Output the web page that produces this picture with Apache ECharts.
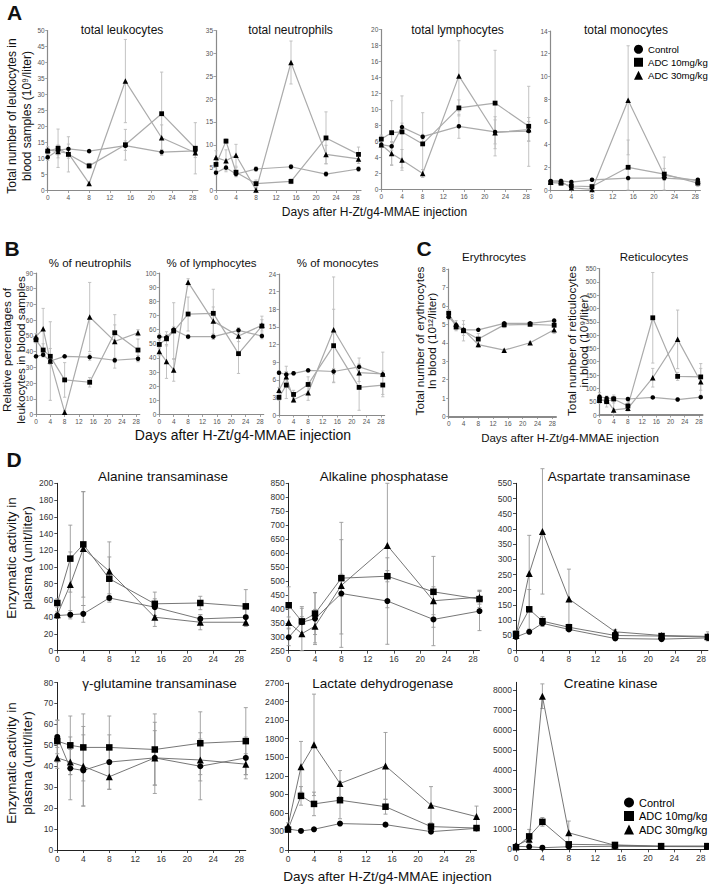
<!DOCTYPE html>
<html><head><meta charset="utf-8">
<script src="https://cdn.jsdelivr.net/npm/echarts@6/dist/echarts.min.js"></script>
<style>html,body{margin:0;padding:0;background:#fff}#c{width:709px;height:884px}</style>
</head><body><div id="c"></div>
<script>
// ---------- DATA ----------
const SERIES_NAMES = ['Control', 'ADC 10mg/kg', 'ADC 30mg/kg'];
const DAYS_ABC = [0, 2, 4, 8, 15, 22, 28.5];
const DAYS_D = [0, 2, 4, 8, 15, 22, 29];
const DAY_TICKS = [0, 4, 8, 12, 16, 20, 24, 28];
const CK_TICKS = [0, 1000, 2000, 3000, 4000, 5000, 6000, 7000, 8000];

// A: total leukocytes (10^9/liter)
const leukCtrl = [10.4, 12.6, 13.0, 12.3, 14.0, 12.0, 12.4];
const leuk10   = [12.3, 13.2, 11.3, 7.7, 14.3, 24.0, 13.2];
const leuk30   = [12.7, 12.2, 11.6, 2.2, 34.2, 16.5, 11.8];
const leukCtrlErr = [1, 1.5, 1.5, 0.5, 1.5, 0.8, 1];
const leuk10Err   = [1, 6, 5.5, 0.8, 4.8, 13, 8];
const leuk30Err   = [1, 2, 1.5, 0.5, 13, 4, 1.5];
// A: total neutrophils
const neutCtrl = [3.9, 5.0, 3.6, 4.7, 5.2, 3.6, 4.7];
const neut10   = [5.7, 10.8, 4.0, 1.5, 2.0, 11.5, 7.9];
const neut30   = [7.2, 6.5, 7.7, 0.1, 28.0, 7.9, 6.9];
const neutCtrlErr = [0.5, 0.5, 0.5, 0.5, 0.5, 0.5, 0.5];
const neut10Err   = [1.5, 0.5, 1, 0.8, 0.5, 5.7, 1.6];
const neut30Err   = [1.5, 2.4, 2.4, 0.3, 4.7, 2, 1];
// A: total lymphocytes
const lymCtrl = [5.6, 5.4, 7.8, 6.6, 7.9, 7.2, 7.3];
const lym10   = [6.3, 7.1, 7.2, 5.7, 10.2, 10.8, 7.9];
const lym30   = [5.6, 4.5, 3.7, 2.0, 14.2, 7.1, 7.5];
const lymCtrlErr = [0.3, 0.5, 0.5, 0.3, 1.5, 1.5, 1.2];
const lym10Err   = [0.5, 4, 4.5, 3.9, 1, 6.6, 5];
const lym30Err   = [0.3, 1.5, 1.3, 0.5, 4.4, 2, 1.5];
// A: total monocytes
const monoCtrl = [0.8, 0.8, 0.7, 0.9, 1.05, 1.05, 0.9];
const mono10   = [0.65, 0.6, 0.35, 0.3, 2.0, 1.4, 0.6];
const mono30   = [0.7, 0.75, 0.2, 0.05, 7.9, 1.3, 0.8];
const monoCtrlErr = [0.1, 0.1, 0.15, 0.1, 0.15, 0.2, 0.1];
const mono10Err   = [0.15, 0.15, 0.2, 0.2, 2.4, 0.5, 0.3];
const mono30Err   = [0.1, 0.2, 0.2, 0.1, 4.8, 1.6, 0.2];

// B: % of neutrophils
const pNeutCtrl = [37, 38, 34, 37, 36.5, 34.5, 35.5];
const pNeut10   = [47.5, 41, 37, 22, 20.5, 52, 41];
const pNeut30   = [49.5, 54.5, 34, 1.5, 62, 46.5, 52];
const pNeutCtrlErr = [1, 1.5, 2, 1, 2, 1.5, 2];
const pNeut10Err   = [2, 4, 5, 11, 3, 5, 7];
const pNeut30Err   = [2, 13, 25, 1, 22, 17, 2];
// B: % of lymphocytes
const pLymCtrl = [55, 54.5, 60, 55, 55, 59.5, 55.5];
const pLym10   = [49.5, 53.5, 59, 71, 71.5, 43, 62.5];
const pLym30   = [44.5, 37.5, 31.5, 93.5, 66, 55.5, 63];
const pLymCtrlErr = [2, 2, 2, 1.5, 2, 2, 2];
const pLym10Err   = [3, 5, 20, 12, 17, 14, 7];
const pLym30Err   = [3, 12, 8, 2.5, 10, 4, 4];
// B: % of monocytes
const pMonoCtrl = [7.2, 6.9, 7.1, 7.6, 7.4, 8.2, 6.9];
const pMono10   = [3.0, 5.1, 3.5, 5.2, 11.8, 4.7, 5.1];
const pMono30   = [4.2, 6.5, 2.6, 3.8, 14.5, 7.2, 7.0];
const pMonoCtrlErr = [0.3, 0.4, 0.3, 0.3, 0.5, 1.5, 3.8];
const pMono10Err   = [0.5, 2.3, 0.7, 1.3, 6.2, 3.9, 1.6];
const pMono30Err   = [0.5, 1.8, 0.4, 1.3, 9, 1.5, 0.5];

// C: erythrocytes (10^12/liter)
const eryCtrl = [5.4, 4.95, 4.7, 4.7, 5.05, 5.05, 5.2];
const ery10   = [5.6, 4.85, 4.65, 4.2, 4.97, 5.0, 4.95];
const ery30   = [5.5, 5.0, 4.7, 3.9, 3.6, 4.0, 4.7];
const eryCtrlErr = [0.15, 0.1, 0.1, 0.05, 0.08, 0.08, 0.1];
const ery10Err   = [0.2, 0.2, 0.55, 0.3, 0.15, 0.1, 0.3];
const ery30Err   = [0.2, 0.2, 0.3, 0.15, 0.05, 0.05, 0.2];
// C: reticulocytes (10^9/liter)
const retCtrl = [69, 63, 62, 60, 66, 58, 67];
const ret10   = [59, 50, 60, 34, 365, 145, 143];
const ret30   = [55, 57, 19, 25, 140, 284, 125];
const retCtrlErr = [15, 8, 5, 5, 5, 5, 5];
const ret10Err   = [15, 20, 15, 15, 170, 15, 50];
const ret30Err   = [10, 10, 35, 10, 35, 110, 50];

// D: enzymes (unit/liter)
const altCtrl = [42, 43, 44, 63, 52, 38, 40];
const alt10   = [57, 110, 127, 86, 56, 57, 53];
const alt30   = [43, 79, 122, 95, 40, 34, 34];
const altCtrlErr = [3, 5, 10, 5, 10, 5, 10];
const alt10Err   = [5, 40, 63, 26, 14, 8, 20];
const alt30Err   = [4, 39, 68, 35, 11, 9, 5];

const alpCtrl = [298, 352, 365, 455, 428, 362, 392];
const alp10   = [413, 355, 383, 510, 517, 461, 435];
const alp30   = [351, 311, 338, 484, 627, 429, 442];
const alpCtrlErr = [30, 50, 93, 193, 155, 94, 70];
const alp10Err   = [66, 53, 75, 200, 20, 127, 30];
const alp30Err   = [20, 61, 60, 40, 223, 50, 25];

const astCtrl = [45, 62, 90, 70, 40, 38, 42];
const ast10   = [55, 136, 97, 77, 50, 48, 45];
const ast30   = [50, 254, 392, 170, 62, 50, 47];
const astCtrlErr = [5, 5, 10, 5, 5, 5, 5];
const ast10Err   = [10, 65, 15, 10, 8, 5, 5];
const ast30Err   = [5, 125, 206, 98, 8, 5, 15];

const ggtCtrl = [54, 39, 38, 42, 44, 40, 44];
const ggt10   = [52, 50, 49, 49, 48, 51, 52];
const ggt30   = [44, 42, 40, 35, 44, 43, 41];
const ggtCtrlErr = [8, 15, 17, 13, 17, 16, 10];
const ggt10Err   = [10, 14, 16, 15, 17, 15, 16];
const ggt30Err   = [5, 6, 19, 6, 13, 10, 5];

const ldhCtrl = [340, 308, 335, 427, 410, 297, 350];
const ldh10   = [330, 875, 745, 805, 700, 378, 355];
const ldh30   = [390, 1345, 1700, 1075, 1360, 725, 540];
const ldhCtrlErr = [30, 20, 20, 30, 30, 30, 30];
const ldh10Err   = [40, 150, 190, 300, 120, 60, 40];
const ldh30Err   = [50, 410, 820, 210, 540, 300, 170];

const ckCtrl = [150, 130, 80, 130, 150, 140, 130];
const ck10   = [100, 650, 1380, 250, 220, 160, 160];
const ck30   = [180, 500, 7700, 830, 200, 150, 150];
const ckCtrlErr = [20, 20, 20, 20, 20, 20, 20];
const ck10Err   = [30, 350, 220, 100, 50, 30, 30];
const ck30Err   = [30, 200, 620, 590, 50, 30, 30];

// ---------- LAYOUT / STYLE ----------
const FF = '"Liberation Sans", Arial, sans-serif';
const STY = {
  abc: {axis:'#8a8a8a', axisW:1.2, tick:2.5, fs:6.5, lab:'#555', m:3, line:'#ababab', lw:1.2,
        sym:[4.5, 4.8, 5.5], err:'#bcbcbc', errW:0.9, cap:1.6},
  d:   {axis:'#222', axisW:1, tick:3, fs:8.5, lab:'#333', m:4, line:'#666', lw:0.9,
        sym:[6, 6.5, 7], err:'#9a9a9a', errW:0.9, cap:2}
};
const SYMS = ['circle', 'rect', 'triangle'];

const panels = [
  {st:'abc', days:DAYS_ABC, box:[47.7, 30.5, 150.2, 160], y:[0, 50, 5],
   vals:[leukCtrl, leuk10, leuk30], errs:[leukCtrlErr, leuk10Err, leuk30Err]},
  {st:'abc', days:DAYS_ABC, box:[216, 30.5, 145, 160], y:[0, 35, 5],
   vals:[neutCtrl, neut10, neut30], errs:[neutCtrlErr, neut10Err, neut30Err]},
  {st:'abc', days:DAYS_ABC, box:[381.3, 29.5, 150, 160], y:[0, 20, 2],
   vals:[lymCtrl, lym10, lym30], errs:[lymCtrlErr, lym10Err, lym30Err]},
  {st:'abc', days:DAYS_ABC, box:[550.7, 31, 149.7, 159], y:[0, 14, 2],
   vals:[monoCtrl, mono10, mono30], errs:[monoCtrlErr, mono10Err, mono30Err]},

  {st:'abc', days:DAYS_ABC, box:[36, 273, 103.8, 141.5], y:[0, 90, 10],
   vals:[pNeutCtrl, pNeut10, pNeut30], errs:[pNeutCtrlErr, pNeut10Err, pNeut30Err]},
  {st:'abc', days:DAYS_ABC, box:[159.3, 273, 104.4, 141.5], y:[0, 100, 10],
   vals:[pLymCtrl, pLym10, pLym30], errs:[pLymCtrlErr, pLym10Err, pLym30Err]},
  {st:'abc', days:DAYS_ABC, box:[279, 274, 105.6, 141], y:[0, 24, 3],
   vals:[pMonoCtrl, pMono10, pMono30], errs:[pMonoCtrlErr, pMono10Err, pMono30Err]},

  {st:'abc', days:DAYS_ABC, box:[448.7, 269, 107.3, 147.5], y:[0, 8, 1], axW:2,
   vals:[eryCtrl, ery10, ery30], errs:[eryCtrlErr, ery10Err, ery30Err]},
  {st:'abc', days:DAYS_ABC, box:[599.5, 268.5, 103, 146.5], y:[0, 550, 50], axW:2,
   vals:[retCtrl, ret10, ret30], errs:[retCtrlErr, ret10Err, ret30Err]},

  {st:'d', days:DAYS_D, box:[57.3, 483.3, 188.5, 167.4], y:[0, 200, 20],
   vals:[altCtrl, alt10, alt30], errs:[altCtrlErr, alt10Err, alt30Err]},
  {st:'d', days:DAYS_D, box:[288.7, 483.3, 190.8, 167.4], y:[250, 850, 50],
   vals:[alpCtrl, alp10, alp30], errs:[alpCtrlErr, alp10Err, alp30Err]},
  {st:'d', days:DAYS_D, box:[516, 483.3, 192.9, 167.4], y:[0, 550, 50],
   vals:[astCtrl, ast10, ast30], errs:[astCtrlErr, ast10Err, ast30Err]},
  {st:'d', days:DAYS_D, box:[57.3, 682.5, 188.5, 167.5], y:[0, 80, 10],
   vals:[ggtCtrl, ggt10, ggt30], errs:[ggtCtrlErr, ggt10Err, ggt30Err]},
  {st:'d', days:DAYS_D, box:[288, 683, 188.5, 167], y:[0, 2700, 300],
   vals:[ldhCtrl, ldh10, ldh30], errs:[ldhCtrlErr, ldh10Err, ldh30Err]},
  {st:'d', days:DAYS_D, box:[516, 682.3, 191.3, 167], y:[0, 8400, 1000], yTicks:CK_TICKS,
   vals:[ckCtrl, ck10, ck30], errs:[ckCtrlErr, ck10Err, ck30Err]}
];

const texts = [
  // panel letters
  {t:'A', x:14.5, y:12.5, s:21, b:true}, {t:'B', x:12, y:248, s:21, b:true},
  {t:'C', x:424, y:248.5, s:21, b:true}, {t:'D', x:14, y:459.5, s:21, b:true},
  // titles
  {t:'total leukocytes', x:122, y:30, s:12}, {t:'total neutrophils', x:290.5, y:30, s:12},
  {t:'total lymphocytes', x:457.5, y:30, s:12}, {t:'total monocytes', x:626, y:30, s:12},
  {t:'% of neutrophils', x:90, y:262.5, s:11.5}, {t:'% of lymphocytes', x:211.5, y:262.5, s:11.5},
  {t:'% of monocytes', x:337.7, y:262.5, s:11.5},
  {t:'Erythrocytes', x:494, y:257, s:11.5}, {t:'Reticulocytes', x:654, y:257.3, s:11.5},
  {t:'Alanine transaminase', x:163, y:476.7, s:13.5}, {t:'Alkaline phosphatase', x:384, y:476.7, s:13.5},
  {t:'Aspartate transaminase', x:619, y:476.7, s:13.5},
  {t:'γ-glutamine transaminase', x:159.5, y:683, s:13.5}, {t:'Lactate dehydrogenase', x:382.7, y:683, s:13.5},
  {t:'Creatine kinase', x:610.7, y:683, s:13.5},
  // axis names
  {t:'Total number of leukocytes in\nblood samples (10⁹/liter)', x:19.5, y:116, s:12, r:true, lh:15},
  {t:'Days after H-Zt/g4-MMAE injection', x:374.5, y:212, s:12},
  {t:'Relative percentages of\nleukocytes in blood samples', x:14, y:350, s:11.8, r:true, lh:13.5},
  {t:'Days after H-Zt/g4-MMAE injection', x:243, y:434.5, s:14},
  {t:'Total number of erythrocytes\nIn blood (10¹²/liter)', x:426, y:341, s:11.8, r:true, lh:12.8},
  {t:'Total number of reticulocytes\nin blood (10⁹/liter)', x:578, y:341, s:11.8, r:true, lh:12.8},
  {t:'Days after H-Zt/g4-MMAE injection', x:570, y:438, s:11.5},
  {t:'Enzymatic activity in\nplasma (unit/liter)', x:19, y:558, s:13.5, r:true, lh:16},
  {t:'Enzymatic activity in\nplasma (unit/liter)', x:19, y:763, s:13.5, r:true, lh:16},
  {t:'Days after H-Zt/g4-MMAE injection', x:387.5, y:876, s:13.5}
];

// ---------- BUILD ----------
function makeErr(ymin, st) {
  return function (params, api) {
    const x = api.value(0), y = api.value(1), e = api.value(2);
    if (!e) return null;
    const lo = api.coord([x, Math.max(ymin, y - e)]);
    const hi = api.coord([x, y + e]);
    const w = st.cap;
    const style = {stroke: st.err, lineWidth: st.errW};
    return {type: 'group', children: [
      {type: 'line', shape: {x1: hi[0], y1: hi[1], x2: lo[0], y2: lo[1]}, style: style},
      {type: 'line', shape: {x1: hi[0] - w, y1: hi[1], x2: hi[0] + w, y2: hi[1]}, style: style},
      {type: 'line', shape: {x1: lo[0] - w, y1: lo[1], x2: lo[0] + w, y2: lo[1]}, style: style}
    ]};
  };
}
const plainNum = v => String(v);

const grid = [], xAxis = [], yAxis = [], series = [];
panels.forEach((p, i) => {
  const st = STY[p.st];
  const axW = p.axW || st.axisW;
  grid.push({left: p.box[0], top: p.box[1], width: p.box[2], height: p.box[3]});
  xAxis.push({type: 'value', gridIndex: i, min: 0, max: 29, interval: 4,
    axisLine: {show: true, onZero: false, lineStyle: {color: st.axis, width: axW}},
    axisTick: {show: true, length: st.tick, customValues: DAY_TICKS, lineStyle: {color: st.axis, width: 0.8}},
    axisLabel: {customValues: DAY_TICKS, fontSize: st.fs, color: st.lab, margin: st.m, fontFamily: FF, formatter: plainNum},
    splitLine: {show: false}});
  const yLab = {fontSize: st.fs, color: st.lab, margin: st.m, fontFamily: FF, formatter: plainNum};
  const yTick = {show: true, length: st.tick, lineStyle: {color: st.axis, width: 0.8}};
  if (p.yTicks) { yLab.customValues = p.yTicks; yTick.customValues = p.yTicks; }
  yAxis.push({type: 'value', gridIndex: i, min: p.y[0], max: p.y[1], interval: p.y[2],
    axisLine: {show: true, onZero: false, lineStyle: {color: st.axis, width: st.axisW}},
    axisTick: yTick, axisLabel: yLab, splitLine: {show: false}});
  for (let s = 0; s < 3; s++) {
    series.push({type: 'custom', xAxisIndex: i, yAxisIndex: i, silent: true, z: 1,
      encode: {x: 0, y: 1},
      data: p.days.map((d, k) => [d, p.vals[s][k], p.errs[s][k]]),
      renderItem: makeErr(p.y[0], st)});
  }
  for (let s = 0; s < 3; s++) {
    series.push({type: 'line', name: SERIES_NAMES[s], xAxisIndex: i, yAxisIndex: i, z: 3,
      data: p.days.map((d, k) => [d, p.vals[s][k]]),
      symbol: SYMS[s], symbolSize: st.sym[s], showAllSymbol: true,
      itemStyle: {color: '#000'}, lineStyle: {color: st.line, width: st.lw},
      emphasis: {disabled: true}});
  }
});

const graphic = texts.map(o => ({
  type: 'text', x: o.x, y: o.y, rotation: o.r ? Math.PI / 2 : 0, silent: true,
  style: {text: o.t, fill: '#111', fontSize: o.s, fontFamily: FF,
    fontWeight: o.b ? 'bold' : 'normal', align: 'center', verticalAlign: 'middle',
    lineHeight: o.lh || Math.round(o.s * 1.2)}
}));

const legendData = SERIES_NAMES.map((n, i) => ({name: n, icon: ['circle', 'rect', 'triangle'][i]}));
const chart = echarts.init(document.getElementById('c'), null, {renderer: 'svg', width: 709, height: 884});
chart.setOption({
  animation: false,
  backgroundColor: '#fff',
  textStyle: {fontFamily: FF},
  grid: grid, xAxis: xAxis, yAxis: yAxis, series: series, graphic: graphic,
  legend: [
    {left: 634, top: 44, orient: 'vertical', padding: 0, itemWidth: 9, itemHeight: 9, itemGap: 2.5,
     selectedMode: false, itemStyle: {color: '#000'},
     textStyle: {fontSize: 9.6, lineHeight: 10.5, color: '#000', fontFamily: FF}, data: legendData},
    {left: 624, top: 797, orient: 'vertical', padding: 0, itemWidth: 10, itemHeight: 10, itemGap: 2.5,
     selectedMode: false, itemStyle: {color: '#000'},
     textStyle: {fontSize: 11, lineHeight: 11, color: '#000', fontFamily: FF}, data: legendData}
  ]
});
</script></body></html>
